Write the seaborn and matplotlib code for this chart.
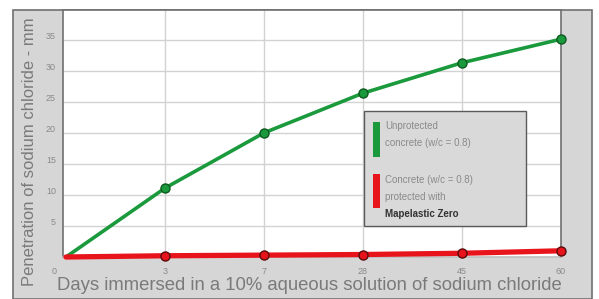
import matplotlib
matplotlib.use("Agg")
import matplotlib.pyplot as plt
from matplotlib.patches import Rectangle
import matplotlib.transforms as mtransforms
import seaborn as sns
import pandas as pd
import numpy as np

days = ["0", "3", "7", "28", "45", "60"]
unprotected = [0, 11.1, 20.0, 26.4, 31.3, 35.1]
protected = [0, 0.2, 0.3, 0.4, 0.6, 1.0]
yticks = [5, 10, 15, 20, 25, 30, 35]

sns.set_theme(style="white")
plt.rcParams['font.family'] = ['Liberation Sans', 'DejaVu Sans']

W, H = 599, 299
fig = plt.figure(figsize=(W / 100, H / 100), dpi=100)
fig.patch.set_facecolor("white")
# gray panel
fig.add_artist(Rectangle((13 / W, 0), (592 - 13) / W, (H - 10) / H,
                         transform=fig.transFigure, facecolor="#d6d6d6",
                         edgecolor="#707070", linewidth=1.2, zorder=0))

ax = fig.add_axes([63 / W, (H - 257) / H, (561 - 63) / W, (257 - 10) / H])
ax.set_facecolor("white")

pos = np.arange(len(days))
df = pd.DataFrame({"x": np.concatenate([pos, pos]),
                   "y": unprotected + protected,
                   "s": ["u"] * len(days) + ["p"] * len(days)})

sns.lineplot(data=df[df.s == "u"], x="x", y="y", ax=ax, color="#1a9a3c",
             linewidth=2.6, marker="o", markersize=6.5, markeredgecolor="#0d5a20",
             markeredgewidth=1.0, clip_on=False, zorder=4)
sns.lineplot(data=df[df.s == "p"], x="x", y="y", ax=ax, color="#e8141c",
             linewidth=3.8, marker="o", markersize=6.5, markeredgecolor="#5a0a0a",
             markeredgewidth=1.0, clip_on=False, zorder=5)
# hide marker at origin
for ln in ax.lines:
    xs = ln.get_xdata()
    ln.set_markevery(list(range(1, len(xs))))

ax.set_xlabel("")
ax.set_ylabel("")
ax.set_xlim(-0.03, 5.0)
ax.set_ylim(0, 39.8)
ax.set_xticks(pos)
ax.set_xticklabels(days)
ax.set_yticks(yticks)
ax.set_yticklabels([str(v) for v in yticks])
ax.tick_params(axis="both", length=0, labelsize=6.5, labelcolor="#8a8a8a")
ax.tick_params(axis="x", pad=7.5)
ax.tick_params(axis="y", pad=5)

# y tick labels sit slightly above their gridlines
up = mtransforms.ScaledTranslation(0, 4 / 100, fig.dpi_scale_trans)
for lbl in ax.get_yticklabels():
    lbl.set_transform(lbl.get_transform() + up)
# the "0" day label sits left of the origin
left = mtransforms.ScaledTranslation(-12 / 100, 0, fig.dpi_scale_trans)
xl = ax.get_xticklabels()[0]
xl.set_transform(xl.get_transform() + left)

for v in yticks:
    ax.axhline(v, color="#d2d2d2", linewidth=1.0, zorder=1)
for p in pos[1:-1]:
    ax.axvline(p, color="#d2d2d2", linewidth=1.0, zorder=1)

for side in ["left", "right", "top"]:
    ax.spines[side].set_color("#707070")
    ax.spines[side].set_linewidth(1.2)
ax.spines["bottom"].set_color("#c0c0c0")

fig.text(309 / W, (H - 285) / H,
         "Days immersed in a 10% aqueous solution of sodium chloride",
         fontsize=13.3, color="#7a7a7a", ha="center", va="center")
fig.text(30 / W, (H - 152) / H, "Penetration of sodium chloride - mm",
         fontsize=12, color="#7a7a7a", ha="center", va="center", rotation=90)

# custom legend box
def ax_xy(px, py):
    return ((px - 63) / (561 - 63), (257 - py) / (257 - 10))

x0, y0 = ax_xy(364, 226)
x1, y1 = ax_xy(526, 111)
ax.add_patch(Rectangle((x0, y0), x1 - x0, y1 - y0, transform=ax.transAxes,
                       facecolor="#d9d9d9", edgecolor="#5a5a5a", linewidth=1.0,
                       zorder=6, clip_on=False))
bx0, by0 = ax_xy(373, 157)
bx1, by1 = ax_xy(380, 122)
ax.add_patch(Rectangle((bx0, by0), bx1 - bx0, by1 - by0, transform=ax.transAxes,
                       facecolor="#1a9a3c", edgecolor="none", zorder=7))
bx0, by0 = ax_xy(373, 208)
bx1, by1 = ax_xy(380, 174)
ax.add_patch(Rectangle((bx0, by0), bx1 - bx0, by1 - by0, transform=ax.transAxes,
                       facecolor="#e8141c", edgecolor="none", zorder=7))

lines = [("Unprotected", 126, "normal", "#8a8a8a"),
         ("concrete (w/c = 0.8)", 143, "normal", "#8a8a8a"),
         ("Concrete (w/c = 0.8)", 180, "normal", "#8a8a8a"),
         ("protected with", 197, "normal", "#8a8a8a"),
         ("Mapelastic Zero", 214, "bold", "#333333")]
for txt, py, wt, col in lines:
    tx, ty = ax_xy(385, py)
    ax.text(tx, ty, txt, transform=ax.transAxes, fontsize=7, fontweight=wt,
            color=col, va="center", ha="left", zorder=8)

fig.savefig("out.png", dpi=100, facecolor=fig.get_facecolor())
